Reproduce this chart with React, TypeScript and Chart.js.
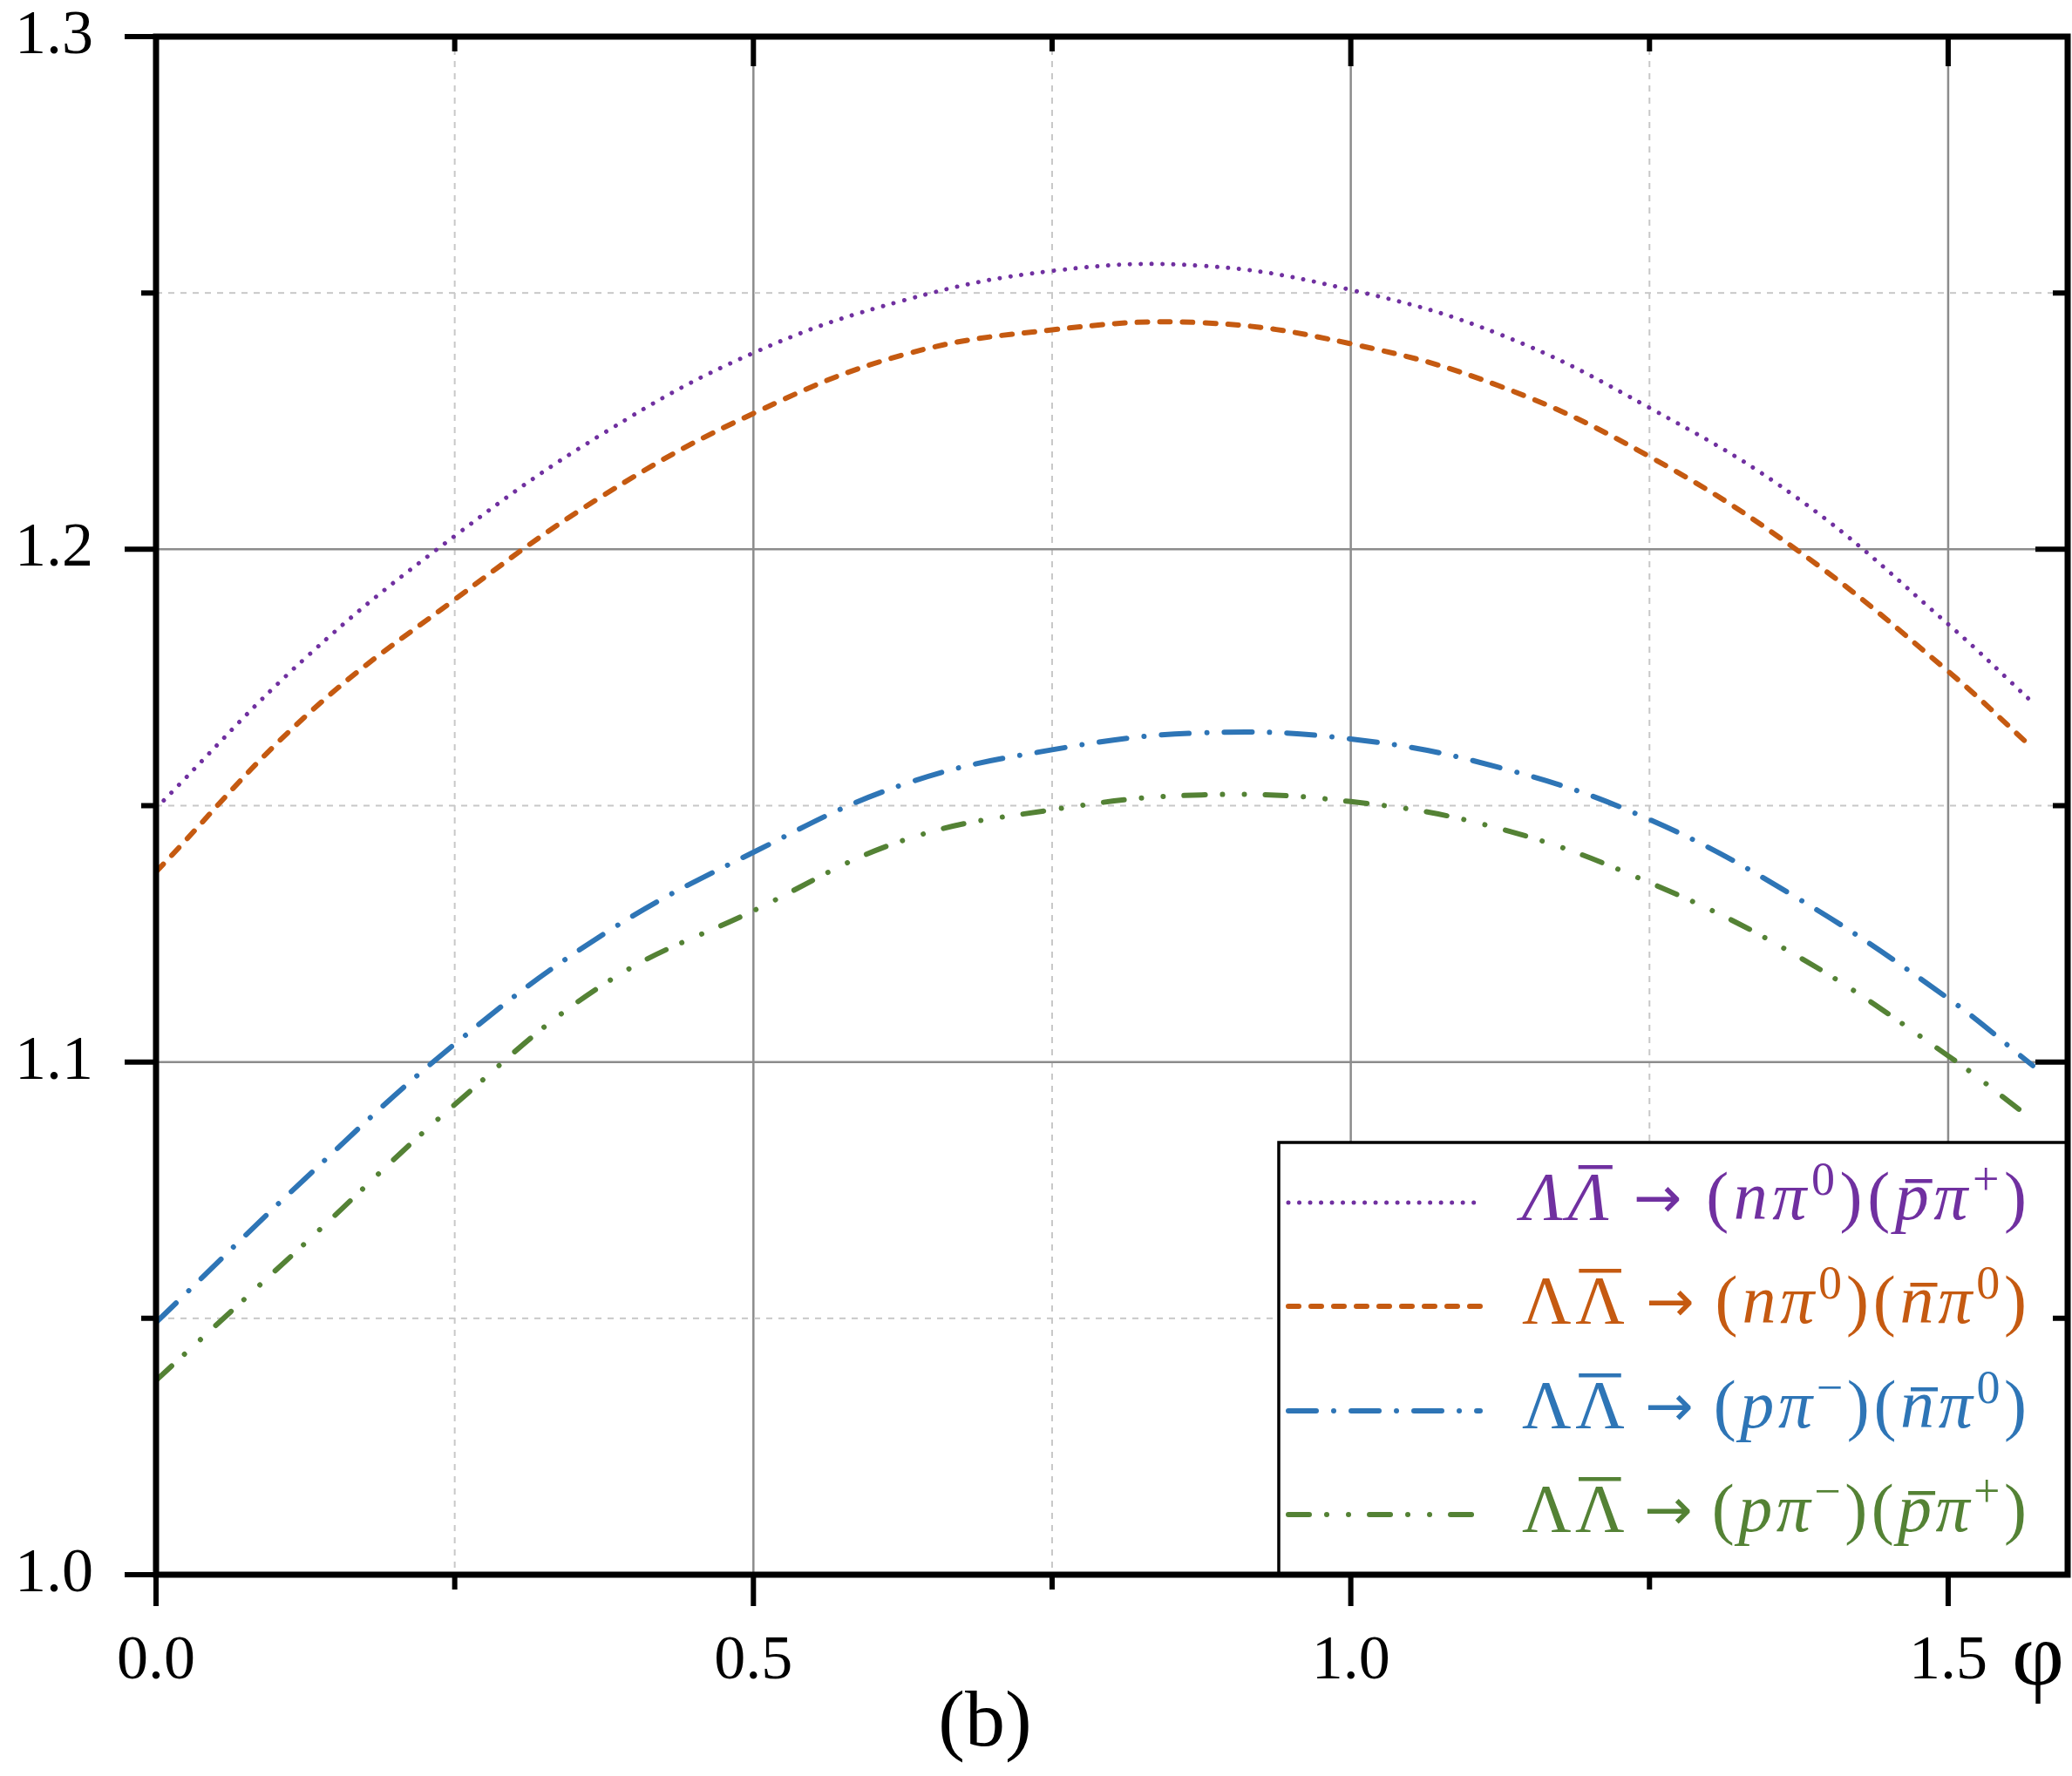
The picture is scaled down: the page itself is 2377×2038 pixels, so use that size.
import { useEffect, useRef } from 'react';
import { Chart, registerables } from 'chart.js';

Chart.register(...registerables);

const PHI = [0, 0.125, 0.25, 0.375, 0.5, 0.625, 0.75, 0.875, 1.0, 1.125, 1.25, 1.375, 1.5, 1.5708];

const N_PI0_PBAR_PIP = [1.1495, 1.1788, 1.2026, 1.2227, 1.2383, 1.2485, 1.2543, 1.2553, 1.2506, 1.2419, 1.2276, 1.2098, 1.1854, 1.1701];
const N_PI0_NBAR_PI0 = [1.1371, 1.1674, 1.1902, 1.2106, 1.2265, 1.2379, 1.2428, 1.2442, 1.2401, 1.2318, 1.2181, 1.1996, 1.1762, 1.1612];
const P_PIM_NBAR_PI0 = [1.0492, 1.0773, 1.1035, 1.125, 1.1409, 1.1541, 1.1609, 1.1642, 1.163, 1.1574, 1.1473, 1.1318, 1.1124, 1.0993];
const P_PIM_PBAR_PIP = [1.0379, 1.0647, 1.0917, 1.1152, 1.1295, 1.1432, 1.1492, 1.1521, 1.1508, 1.1455, 1.135, 1.1205, 1.1012, 1.0887];

const X_TICKS = [0, 0.25, 0.5, 0.75, 1.0, 1.25, 1.5];
const X_LABELS = ['0.0', '', '0.5', '', '1.0', '', '1.5'];
const Y_TICKS = [1.0, 1.05, 1.1, 1.15, 1.2, 1.25, 1.3];
const Y_LABELS = ['1.0', '', '1.1', '', '1.2', '', '1.3'];

// legend labels: [text, flags] with i = italic, b = overbar, s = superscript, a = arrow
type Part = [string, string];
const LEGEND_PARTS: Part[][] = [
  [['Λ', 'i'], ['Λ', 'ib'], ['→', 'a'], ['(', ''], ['n', 'i'], ['π', 'i'], ['0', 's'], [')', ''], ['(', ''], ['p', 'ib'], ['π', 'i'], ['+', 's'], [')', '']],
  [['Λ', ''], ['Λ', 'b'], ['→', 'a'], ['(', ''], ['n', 'i'], ['π', 'i'], ['0', 's'], [')', ''], ['(', ''], ['n', 'ib'], ['π', 'i'], ['0', 's'], [')', '']],
  [['Λ', ''], ['Λ', 'b'], ['→', 'a'], ['(', ''], ['p', 'i'], ['π', 'i'], ['−', 's'], [')', ''], ['(', ''], ['n', 'ib'], ['π', 'i'], ['0', 's'], [')', '']],
  [['Λ', ''], ['Λ', 'b'], ['→', 'a'], ['(', ''], ['p', 'i'], ['π', 'i'], ['−', 's'], [')', ''], ['(', ''], ['p', 'ib'], ['π', 'i'], ['+', 's'], [')', '']],
];

const SERIES = [
  { label: 'ΛΛ̄ → (nπ⁰)(p̄π⁺)', data: N_PI0_PBAR_PIP, color: '#7030a0', width: 5, dash: [0.01, 12.5] },
  { label: 'ΛΛ̄ → (nπ⁰)(n̄π⁰)', data: N_PI0_NBAR_PI0, color: '#c55a11', width: 6, dash: [12, 14] },
  { label: 'ΛΛ̄ → (pπ⁻)(n̄π⁰)', data: P_PIM_NBAR_PI0, color: '#2e75b6', width: 6, dash: [32, 20, 0.01, 20] },
  { label: 'ΛΛ̄ → (pπ⁻)(p̄π⁺)', data: P_PIM_PBAR_PIP, color: '#548235', width: 6, dash: [24, 20, 0.01, 25, 0.01, 24] },
];

const SERIF = "'Liberation Serif', 'DejaVu Serif', serif";

const framePlugin = {
  id: 'frame',
  beforeDatasetsDraw(chart: any) {
    const { ctx, chartArea: a, scales } = chart;
    ctx.save();
    X_TICKS.forEach((v, i) => {
      const px = scales.x.getPixelForValue(v);
      const major = X_LABELS[i] !== '';
      ctx.beginPath();
      ctx.strokeStyle = major ? '#8c8c8c' : '#c8c8c8';
      ctx.lineWidth = major ? 2.5 : 2;
      ctx.setLineDash(major ? [] : [7, 7]);
      ctx.moveTo(px, a.top);
      ctx.lineTo(px, a.bottom);
      ctx.stroke();
    });
    Y_TICKS.forEach((v, i) => {
      const py = scales.y.getPixelForValue(v);
      const major = Y_LABELS[i] !== '';
      ctx.beginPath();
      ctx.strokeStyle = major ? '#8c8c8c' : '#c8c8c8';
      ctx.lineWidth = major ? 2.5 : 2;
      ctx.setLineDash(major ? [] : [7, 7]);
      ctx.moveTo(a.left, py);
      ctx.lineTo(a.right, py);
      ctx.stroke();
    });
    ctx.restore();
  },
  afterDraw(chart: any) {
    const { ctx, chartArea: a, scales } = chart;
    ctx.save();

    // legend box
    const box = { left: 1467, top: 1311 };
    ctx.fillStyle = '#fff';
    ctx.fillRect(box.left, box.top, a.right - box.left, a.bottom - box.top);
    ctx.strokeStyle = '#000';
    ctx.lineWidth = 3.5;
    ctx.strokeRect(box.left, box.top, a.right - box.left, a.bottom - box.top);

    const rowY = [1380, 1499, 1619, 1738];
    const textLeft = 1746;
    const textRight = 2325;
    const size = 78;
    const supSize = 54;
    const fontOf = (f: string) => {
      if (f.includes('a')) return `${size * 0.85}px 'DejaVu Sans', sans-serif`;
      return `${f.includes('i') ? 'italic ' : ''}${f.includes('s') ? supSize : size}px ${SERIF}`;
    };
    chart.data.datasets.forEach((ds: any, r: number) => {
      const y = rowY[r];
      ctx.beginPath();
      ctx.strokeStyle = ds.borderColor;
      ctx.lineWidth = ds.borderWidth;
      ctx.lineCap = 'round';
      ctx.setLineDash(ds.borderDash);
      ctx.moveTo(1478, y);
      ctx.lineTo(1698, y);
      ctx.stroke();
      ctx.setLineDash([]);
      ctx.lineCap = 'butt';

      const parts = LEGEND_PARTS[r];
      const widths = parts.map(([t, f]) => {
        ctx.font = fontOf(f);
        return ctx.measureText(t).width;
      });
      const sum = widths.reduce((s, w) => s + w, 0);
      // the arrow gets a wide share of space on each side
      const arrowShare = 5;
      const shares = parts.length - 1 + 2 * (arrowShare - 1);
      const gap = (textRight - textLeft - sum) / shares;
      let x = textLeft;
      const base = y + 19;
      ctx.fillStyle = ds.borderColor;
      ctx.textBaseline = 'alphabetic';
      ctx.textAlign = 'left';
      parts.forEach(([t, f], k) => {
        const isArrow = f.includes('a');
        if (isArrow) x += gap * (arrowShare - 1);
        ctx.font = fontOf(f);
        let yy = base;
        if (f.includes('s')) yy = base - 28;
        if (isArrow) yy = base - 2;
        ctx.fillText(t, x, yy);
        if (f.includes('b')) {
          const italic = f.includes('i');
          const h = t === 'Λ' ? 62 : 46;
          const shift = italic ? 8 : 0;
          ctx.fillRect(x + shift + 4, base - h, widths[k] - 8, 4.5);
        }
        x += widths[k] + gap;
        if (isArrow) x += gap * (arrowShare - 1);
      });
    });

    // frame
    ctx.strokeStyle = '#000';
    ctx.lineWidth = 7;
    ctx.strokeRect(a.left, a.top, a.right - a.left, a.bottom - a.top);

    // tick marks: out on the left and bottom, in on the top and right
    ctx.lineWidth = 6;
    ctx.beginPath();
    X_TICKS.forEach((v, i) => {
      const px = scales.x.getPixelForValue(v);
      const major = X_LABELS[i] !== '';
      ctx.moveTo(px, a.bottom);
      ctx.lineTo(px, a.bottom + (major ? 36 : 17));
      ctx.moveTo(px, a.top);
      ctx.lineTo(px, a.top + (major ? 34 : 17));
    });
    Y_TICKS.forEach((v, i) => {
      const py = scales.y.getPixelForValue(v);
      const major = Y_LABELS[i] !== '';
      ctx.moveTo(a.left, py);
      ctx.lineTo(a.left - (major ? 36 : 17), py);
      ctx.moveTo(a.right, py);
      ctx.lineTo(a.right - (major ? 37 : 17), py);
    });
    ctx.stroke();

    // axis name and panel mark
    ctx.fillStyle = '#000';
    ctx.textAlign = 'center';
    ctx.textBaseline = 'alphabetic';
    ctx.font = `104px ${SERIF}`;
    ctx.fillText('φ', 2338, 1933);
    ctx.font = `92px ${SERIF}`;
    ctx.fillText('(b)', 1130, 2003);
    ctx.restore();
  },
};

export default function App() {
  const canvasRef = useRef<HTMLCanvasElement>(null);
  const chartRef = useRef<Chart | null>(null);

  useEffect(() => {
    document.body.style.margin = '0';
    if (!canvasRef.current) return;
    const ctx = canvasRef.current.getContext('2d');
    if (!ctx) return;

    if (chartRef.current) {
      chartRef.current.destroy();
    }

    chartRef.current = new Chart(ctx, {
      type: 'line',
      data: {
        datasets: SERIES.map((s) => ({
          label: s.label,
          data: PHI.map((x, i) => ({ x, y: s.data[i] })),
          borderColor: s.color,
          borderWidth: s.width,
          borderDash: s.dash,
          borderCapStyle: 'round',
          pointRadius: 0,
          fill: false,
          tension: 0.4,
        })),
      },
      options: {
        responsive: false,
        animation: false,
        events: [],
        layout: { padding: { top: 42, right: 5, left: 0, bottom: 0 } },
        plugins: {
          legend: { display: false },
          tooltip: { enabled: false },
        },
        scales: {
          x: {
            type: 'linear',
            min: 0,
            max: 1.6,
            grid: { display: false },
            border: { display: false },
            afterBuildTicks: (s: any) => {
              s.ticks = X_TICKS.map((value) => ({ value }));
            },
            afterFit: (s: any) => {
              s.height = 231;
              s.paddingLeft = 0;
              s.paddingRight = 0;
            },
            ticks: {
              autoSkip: false,
              maxRotation: 0,
              padding: 56,
              color: '#000',
              font: { family: SERIF, size: 72, lineHeight: 1 },
              callback: (v: any) => X_LABELS[X_TICKS.indexOf(Number(v))] ?? '',
            },
          },
          y: {
            type: 'linear',
            min: 1.0,
            max: 1.3,
            grid: { display: false },
            border: { display: false },
            afterBuildTicks: (s: any) => {
              s.ticks = Y_TICKS.map((value) => ({ value }));
            },
            afterFit: (s: any) => {
              s.width = 179;
              s.paddingTop = 0;
              s.paddingBottom = 0;
            },
            ticks: {
              autoSkip: false,
              padding: 64,
              color: '#000',
              font: { family: SERIF, size: 72, lineHeight: 1 },
              callback: (v: any) => Y_LABELS[Y_TICKS.indexOf(Number(v))] ?? '',
            },
          },
        },
      },
      plugins: [framePlugin],
    });

    return () => {
      if (chartRef.current) {
        chartRef.current.destroy();
        chartRef.current = null;
      }
    };
  }, []);

  return (
    <div style={{ width: 2377, height: 2038, background: '#fff' }}>
      <canvas ref={canvasRef} width={2377} height={2038} style={{ display: 'block' }} />
    </div>
  );
}
